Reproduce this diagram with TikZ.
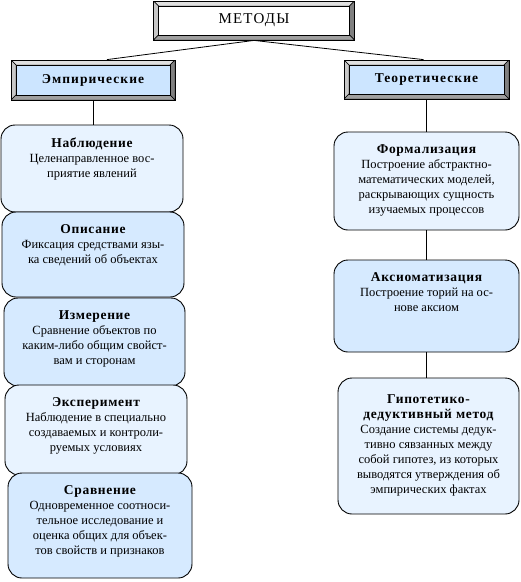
\documentclass[tikz,border=0pt]{standalone}
\usepackage{fontspec}
\setmainfont{Liberation Serif}
\newfontfamily\hdrfont[LetterSpace=8]{Liberation Serif}
\newfontfamily\hdrbold[LetterSpace=8]{Liberation Serif Bold}
\newfontfamily\ttlbold[LetterSpace=5]{Liberation Serif Bold}
\newcommand{\boxtitle}[1]{{\ttlbold\fontsize{13.5}{15}\selectfont #1}}
\usepackage{tikz}
\usetikzlibrary{positioning, calc}
\definecolor{hdrblue}{RGB}{204,229,255}
\definecolor{boxblue}{RGB}{214,234,255}
\definecolor{paleblue}{RGB}{232,243,255}
\definecolor{bevtop}{RGB}{224,224,224}
\definecolor{bevleft}{RGB}{200,200,200}
\definecolor{bevbot}{RGB}{160,160,160}
\definecolor{bevright}{RGB}{128,128,128}
\tikzset{
  bevbox/.style={rectangle, draw=black, line width=0.8pt, inner sep=0pt,
    path picture={
      \filldraw[fill=bevtop, draw=black, line width=0.4pt]
        (path picture bounding box.north west) -- (path picture bounding box.north east)
        -- ($(path picture bounding box.north east)+(-5,5)$) -- ($(path picture bounding box.north west)+(5,5)$) -- cycle;
      \filldraw[fill=bevleft, draw=black, line width=0.4pt]
        (path picture bounding box.north west) -- ($(path picture bounding box.north west)+(5,5)$)
        -- ($(path picture bounding box.south west)+(5,-5)$) -- (path picture bounding box.south west) -- cycle;
      \filldraw[fill=bevright, draw=black, line width=0.4pt]
        (path picture bounding box.north east) -- (path picture bounding box.south east)
        -- ($(path picture bounding box.south east)+(-5,-5)$) -- ($(path picture bounding box.north east)+(-5,5)$) -- cycle;
      \filldraw[fill=bevbot, draw=black, line width=0.4pt]
        (path picture bounding box.south west) -- (path picture bounding box.south east)
        -- ($(path picture bounding box.south east)+(-5,-5)$) -- ($(path picture bounding box.south west)+(5,-5)$) -- cycle;
      \filldraw[fill=#1, draw=black, line width=0.6pt]
        ($(path picture bounding box.north west)+(5,5)$) rectangle ($(path picture bounding box.south east)+(-5,-5)$);
    }},
  blk/.style={rectangle, rounded corners=14pt, draw=black, line width=0.9pt, fill=#1},
  txt/.style={align=center, inner sep=0pt, anchor=north, font=\fontsize{12.5}{15}\selectfont},
  conn/.style={line width=0.8pt, color=black}
}

\begin{document}
\begin{tikzpicture}[x=1pt, y=-1pt]
\useasboundingbox (0,0) rectangle (521,582);

%--- HEADERS ---
\node[bevbox=white, minimum width=201, minimum height=39,
  font=\fontsize{15}{17}\selectfont\hdrfont] (metody) at (254,20.5) {МЕТОДЫ};
\node[bevbox=hdrblue, minimum width=164, minimum height=40,
  font=\fontsize{13.5}{15}\selectfont\hdrbold] (emp) at (93,80) {Эмпирические};
\node[bevbox=hdrblue, minimum width=165, minimum height=39,
  font=\fontsize{13.5}{15}\selectfont\hdrbold] (teor) at (426.5,79.5) {Теоретические};
\draw[conn] (metody.south) -- ([xshift=14]emp.north);
\draw[conn] (metody.south) -- ([xshift=-3]teor.north);

%--- EMPIRICAL (left) ---
\node[blk=paleblue, minimum width=182, minimum height=87] (nabl) at (92,168.5) {};
\node[blk=boxblue,  minimum width=182, minimum height=85] (opis) at (93,254.5) {};
\node[blk=boxblue,  minimum width=181, minimum height=88] (izm)  at (94.5,342) {};
\node[blk=paleblue, minimum width=182, minimum height=90] (eksp) at (96,430) {};
\node[blk=boxblue,  minimum width=184, minimum height=105] (srav) at (100,525.5) {};
\draw[conn] (emp.south) -- (emp.south |- nabl.north);

\node[txt] (nablT) at ([yshift=-13]nabl.north) {\boxtitle{Наблюдение}\\Целенаправленное вос-\\приятие явлений};
\node[txt] (opisT) at ([yshift=-13]opis.north) {\boxtitle{Описание}\\Фиксация средствами язы-\\ка сведений об объектах};
\node[txt] (izmT)  at ([yshift=-13]izm.north)  {\boxtitle{Измерение}\\Сравнение объектов по\\каким-либо общим свойст-\\вам и сторонам};
\node[txt] (ekspT) at ([yshift=-13]eksp.north) {\boxtitle{Эксперимент}\\Наблюдение в специально\\создаваемых и контроли-\\руемых условиях};
\node[txt] (sravT) at ([yshift=-13]srav.north) {\boxtitle{Сравнение}\\Одновременное соотноси-\\тельное исследование и\\оценка общих для объек-\\тов свойств и признаков};

%--- THEORETICAL (right) ---
\node[blk=paleblue, minimum width=185, minimum height=98]  (form) at (426.5,181) {};
\node[blk=boxblue,  minimum width=185, minimum height=92]  (aks)  at (426.5,306) {};
\node[blk=paleblue, minimum width=181, minimum height=136] (gip)  at (428.5,446) {};
\draw[conn] (teor.south) -- (teor.south |- form.north);
\draw[conn] (form.south) -- (aks.north);
\draw[conn] (aks.south) -- (aks.south |- gip.north);

\node[txt] (formT) at ([yshift=-13]form.north) {\boxtitle{Формализация}\\Построение абстрактно-\\математических моделей,\\раскрывающих сущность\\изучаемых процессов};
\node[txt] (aksT)  at ([yshift=-13]aks.north)  {\boxtitle{Аксиоматизация}\\Построение торий на ос-\\нове аксиом};
\node[txt] (gipT)  at ([yshift=-17]gip.north)  {\boxtitle{Гипотетико-}\\\boxtitle{дедуктивный метод}\\Создание системы дедук-\\тивно сявзанных между\\собой гипотез, из которых\\выводятся утверждения об\\эмпирических фактах};
\end{tikzpicture}
\end{document}
